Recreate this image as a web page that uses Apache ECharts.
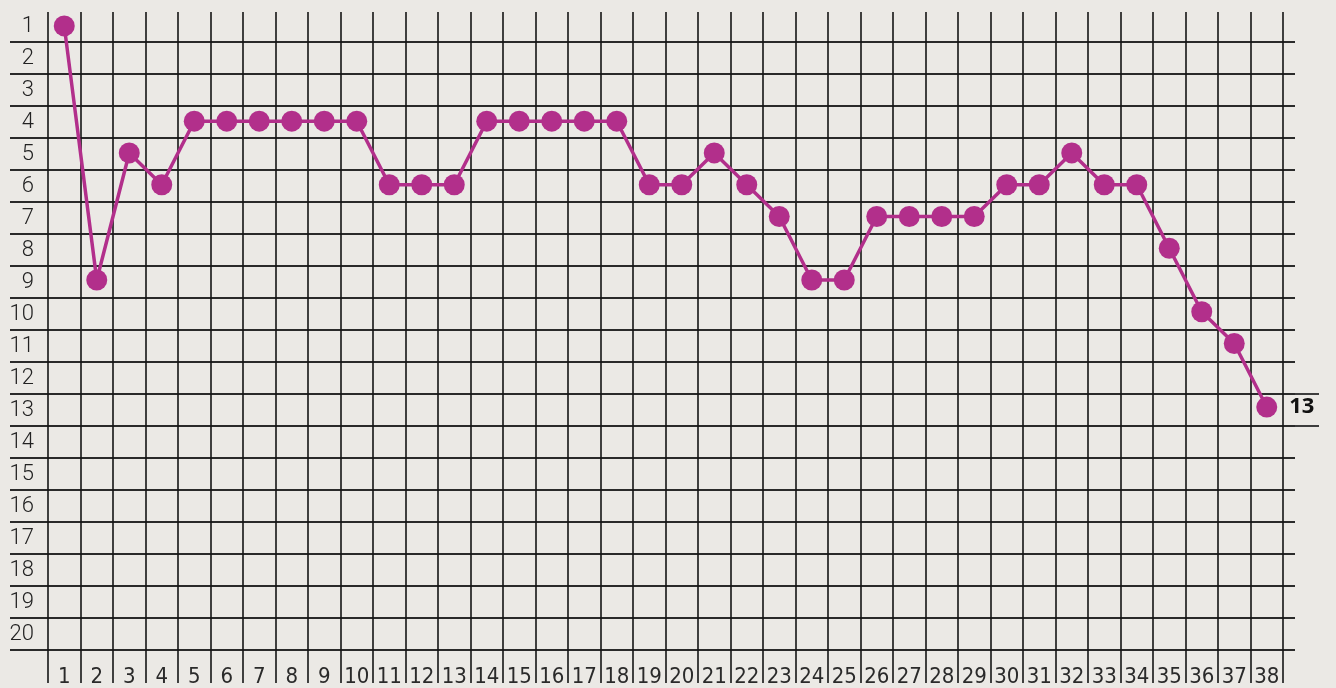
<!DOCTYPE html>
<html>
<head>
<meta charset="utf-8">
<script src="https://cdn.jsdelivr.net/npm/echarts@6/dist/echarts.min.js"></script>
<style>
html,body{margin:0;padding:0;background:#ebe9e5;}
#chart{width:1336px;height:688px;}
</style>
</head>
<body>
<div id="chart"></div>
<script>
const rounds = Array.from({length: 38}, (_, i) => String(i + 1));
const positionLabels = ['1','2','3','4','5','6','7','8','9','10','11','12','13','14','15','16','17','18','19','20',''];
const positions = [1,9,5,6,4,4,4,4,4,4,6,6,6,4,4,4,4,4,6,6,5,6,7,9,9,7,7,7,7,6,6,5,6,6,8,10,11,13];

const lineColor = '#b22f8b';
const chart = echarts.init(document.getElementById('chart'), null, {renderer: 'canvas'});

const seriesData = positions.map((v, i) => {
  if (i === positions.length - 1) {
    return {
      value: v,
      label: {
        show: true, position: 'right', distance: 12,
        formatter: String(v),
        fontFamily: '"Open Sans", "Noto Sans", sans-serif', fontWeight: 'bold', fontSize: 22, color: '#111'
      }
    };
  }
  return v;
});

chart.setOption({
  backgroundColor: '#ebe9e5',
  animation: false,
  grid: [
    {left: 48, width: 1235, top: 12, height: 676},
    {left: 10, width: 1285, top: 10, height: 672},
    {left: 1295, width: 24, top: 10, height: 672}
  ],
  xAxis: [
    {
      gridIndex: 0, type: 'category', data: rounds, boundaryGap: true,
      axisLine: {show: false}, axisTick: {show: false},
      axisLabel: {interval: 0, margin: -17, fontFamily: '"DejaVu Sans Condensed", "Liberation Sans Narrow", Roboto, sans-serif', fontSize: 22, color: '#2a2a2a'},
      splitLine: {show: true, interval: 0, showMinLine: true, showMaxLine: true, lineStyle: {color: '#151515', width: 1.6}}
    },
    {gridIndex: 1, type: 'value', show: false},
    {gridIndex: 2, type: 'value', show: false}
  ],
  yAxis: [
    {gridIndex: 0, type: 'value', inverse: true, min: 1 - 14 / 32, max: 1 - 14 / 32 + 676 / 32, show: false},
    {
      gridIndex: 1, type: 'category', data: positionLabels, inverse: true, boundaryGap: true,
      axisLine: {show: false}, axisTick: {show: false},
      axisLabel: {inside: true, align: 'right', margin: 24, interval: 0, fontFamily: 'Roboto', fontWeight: 300, fontSize: 22, color: '#222'},
      splitLine: {show: true, interval: 0, showMinLine: false, showMaxLine: false, lineStyle: {color: '#2a2a2a', width: 1.8}}
    },
    {
      gridIndex: 2, type: 'category', data: positionLabels, inverse: true, boundaryGap: true,
      axisLine: {show: false}, axisTick: {show: false}, axisLabel: {show: false},
      splitLine: {show: true, interval: (idx) => idx === 12 || idx === 13, showMinLine: true, showMaxLine: false, lineStyle: {color: '#2a2a2a', width: 1.8}}
    }
  ],
  series: [{
    type: 'line',
    xAxisIndex: 0, yAxisIndex: 0,
    data: seriesData,
    symbol: 'circle', symbolSize: 21,
    lineStyle: {color: lineColor, width: 3.5},
    itemStyle: {color: lineColor},
    z: 10
  }]
});
</script>
</body>
</html>
